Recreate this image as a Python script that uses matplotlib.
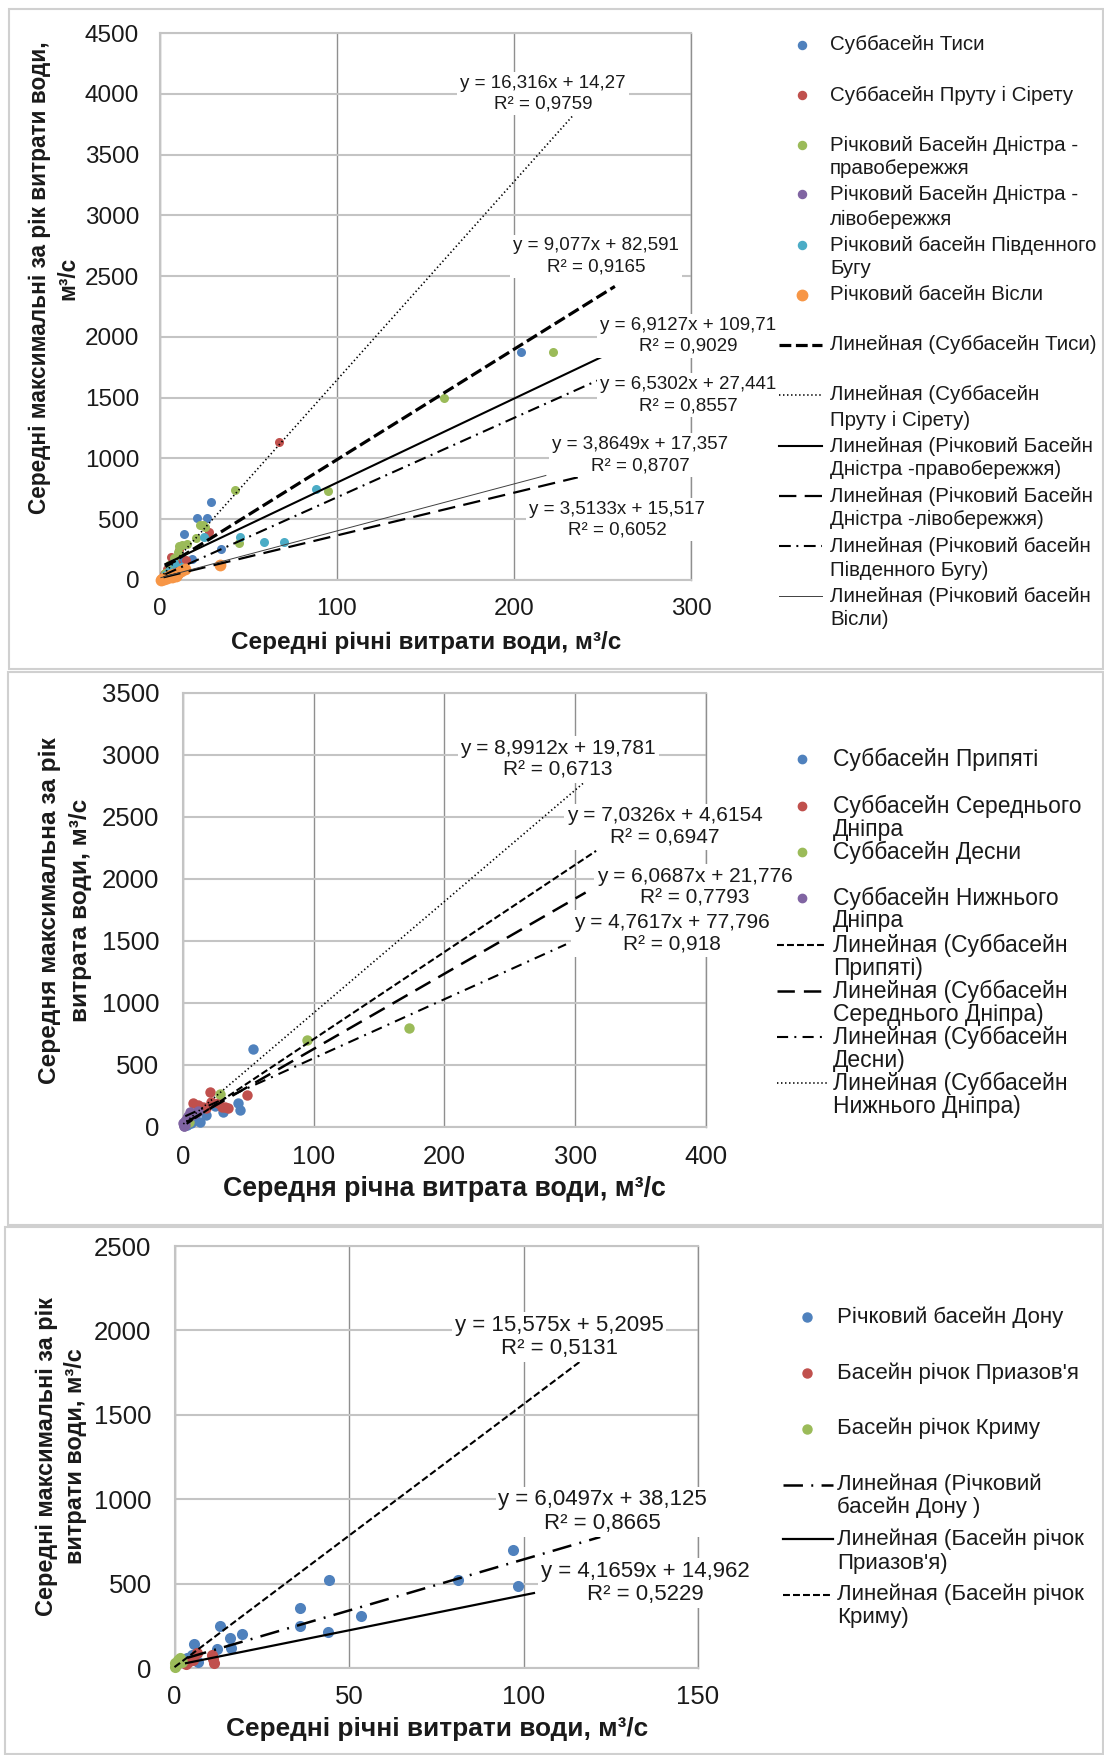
import matplotlib
matplotlib.use('Agg')
import matplotlib.pyplot as plt
from matplotlib.lines import Line2D
from matplotlib.patches import Rectangle
import numpy as np

plt.rcParams['font.family'] = ['Liberation Sans', 'DejaVu Sans']
plt.rcParams['lines.scale_dashes'] = False

# ---------------- DATA ----------------
# Panel 1
p1_names = ['Суббасейн Тиси', 'Суббасейн Пруту і Сірету',
            'Річковий Басейн Дністра -\nправобережжя',
            'Річковий Басейн Дністра -\nлівобережжя',
            'Річковий басейн Південного\nБугу', 'Річковий басейн Вісли']
p1_trend_names = ['Линейная (Суббасейн Тиси)', 'Линейная (Суббасейн\nПруту і Сірету)',
                  'Линейная (Річковий Басейн\nДністра -правобережжя)',
                  'Линейная (Річковий Басейн\nДністра -лівобережжя)',
                  'Линейная (Річковий басейн\nПівденного Бугу)',
                  'Линейная (Річковий басейн\nВісли)']
tysa_x = [204, 28.9, 21, 26.3, 13.5, 34.6, 18.3, 12, 8, 5, 3, 10]
tysa_y = [1877, 645, 508, 510, 378, 259, 175, 200, 120, 80, 40, 160]
prut_x = [67.3, 27.9, 6.1, 14.7, 11, 9, 4, 2]
prut_y = [1134, 397, 192, 165, 250, 140, 90, 50]
dnr_x = [221.8, 160.4, 95, 42.4, 22.6, 24.3, 25.4, 20.3, 44.8, 10.9, 12.2, 10, 8, 5, 3, 15]
dnr_y = [1877, 1501, 731, 742, 450, 455, 440, 343, 308, 277, 290, 233, 180, 120, 60, 300]
dnl_x = [3, 5, 8, 10, 12, 6, 2]
dnl_y = [20, 35, 50, 40, 70, 25, 10]
bug_x = [88.1, 45.3, 58.9, 69.9, 24.9, 8, 5, 3, 12]
bug_y = [751, 350, 316, 312, 350, 140, 70, 40, 110]
visla_x = [33.9, 14, 12, 10, 8, 6, 5, 3, 2, 1, 0.5, 4, 7, 9]
visla_y = [125, 90, 70, 60, 50, 40, 30, 20, 10, 5, 3, 15, 25, 35]
p1_slopes = [9.077, 16.316, 6.9127, 3.5133, 6.5302, 3.8649]
p1_intercepts = [82.591, 14.27, 109.71, 15.517, 27.441, 17.357]
p1_r2 = [0.9165, 0.9759, 0.9029, 0.6052, 0.8557, 0.8707]
p1_trend_end = [257, 235, 251, 236, 247, 218]
p1_xticks = [0, 100, 200, 300]
p1_yticks = [0, 500, 1000, 1500, 2000, 2500, 3000, 3500, 4000, 4500]

# Panel 2
p2_names = ['Суббасейн Припяті', 'Суббасейн Середнього\nДніпра', 'Суббасейн Десни',
            'Суббасейн Нижнього\nДніпра']
p2_trend_names = ['Линейная (Суббасейн\nПрипяті)', 'Линейная (Суббасейн\nСереднього Дніпра)',
                  'Линейная (Суббасейн\nДесни)', 'Линейная (Суббасейн\nНижнього Дніпра)']
pryp_x = [53.4, 42.5, 43.8, 31, 24.6, 13.2, 9.4, 6, 3, 18]
pryp_y = [627, 191, 140, 120, 166, 43, 56, 30, 15, 100]
sered_x = [21, 49.3, 32.4, 35, 27.2, 29.8, 8.1, 11.9, 15.8, 22, 5, 3, 18]
sered_y = [280, 255, 164, 151, 191, 164, 191, 178, 164, 200, 80, 40, 150]
desna_x = [94.8, 173, 28.6, 5, 2]
desna_y = [698, 802, 264, 40, 15]
nyzh_x = [5.6, 3, 0.5, 1, 2, 4, 7, 10, 12, 1.5, 0.8]
nyzh_y = [120, 70, 30, 10, 50, 90, 100, 110, 130, 20, 5]
p2_slopes = [7.0326, 6.0687, 4.7617, 8.9912]
p2_intercepts = [4.6154, 21.776, 77.796, 19.781]
p2_r2 = [0.6947, 0.7793, 0.918, 0.6713]
p2_trend_end = [316, 308, 293, 307]
p2_xticks = [0, 100, 200, 300, 400]
p2_yticks = [0, 500, 1000, 1500, 2000, 2500, 3000, 3500]

# Panel 3
p3_names = ['Річковий басейн Дону', "Басейн річок Приазов'я", 'Басейн річок Криму']
p3_trend_names = ['Линейная (Річковий\nбасейн Дону )', "Линейная (Басейн річок\nПриазов'я)",
                  'Линейная (Басейн річок\nКриму)']
don_x = [97.1, 81.2, 98.4, 44.2, 53.3, 36, 36, 43.9, 13.1, 19.2, 16, 16.1, 12.2, 5.5, 3.7, 6.7, 4.9]
don_y = [698, 521, 486, 519, 311, 356, 247, 213, 250, 203, 177, 119, 114, 143, 60, 35, 77]
azov_x = [6.4, 11.1, 10.8, 4, 5.4, 11.2, 3.3]
azov_y = [86, 55, 75, 37, 47, 31, 21]
krym_x = [0.1, 1.1, 2.1, 0, 1.6, 0.5, 1]
krym_y = [28, 47, 37, 8, 57, 15, 30]
p3_slopes = [6.0497, 4.1659, 15.575]
p3_intercepts = [38.125, 14.962, 5.2095]
p3_r2 = [0.8665, 0.5229, 0.5131]
p3_trend_end = [122, 103, 117]
p3_xticks = [0, 50, 100, 150]
p3_yticks = [0, 500, 1000, 1500, 2000, 2500]

# ---------------- STYLE ----------------
BLUE, RED, GREEN, PURPLE, CYAN, ORANGE = '#4F81BD', '#C0504D', '#9BBB59', '#8064A2', '#4BACC6', '#F79646'
TXT = '#1a1a1a'

W, H = 1104, 1755
fig = plt.figure(figsize=(W / 100, H / 100), dpi=100)


def fx(x):
    return x / W


def fy(y):
    return 1 - y / H


# panel frames
for (x0, y0, x1, y1) in [(9, 8.5, 1103, 669), (8, 672, 1103, 1225), (5, 1227, 1103, 1754)]:
    fig.add_artist(Rectangle((fx(x0), fy(y1)), fx(x1) - fx(x0), fy(y0) - fy(y1),
                             transform=fig.transFigure, facecolor='white',
                             edgecolor='#d0d0d0', lw=1.5, zorder=0))


def eq_text(s, b, r2):
    return 'y = %sx + %s\nR² = %s' % (str(s).replace('.', ','), str(b).replace('.', ','),
                                        str(r2).replace('.', ','))


def setup_axes(rect, xlim, ylim, xticks, yticks, tick_fs, ypad, xpad):
    ax = fig.add_axes(rect)
    ax.set_xlim(*xlim)
    ax.set_ylim(*ylim)
    ax.set_xticks(xticks)
    ax.set_yticks(yticks)
    ax.tick_params(length=0, labelsize=tick_fs, colors=TXT)
    ax.tick_params(axis='y', pad=ypad)
    ax.tick_params(axis='x', pad=xpad)
    ax.set_axisbelow(True)
    ax.grid(axis='y', color='#c4c4c4', lw=1.5)
    ax.grid(axis='x', color='#8f8f8f', lw=1.0)
    for sp in ['left', 'top', 'bottom']:
        ax.spines[sp].set_color('#c4c4c4')
        ax.spines[sp].set_linewidth(1.5)
    ax.spines['right'].set_color('#8f8f8f')
    ax.spines['right'].set_linewidth(1.0)
    ax.patch.set_alpha(0)
    return ax


def draw_legend(rows, mx, hx0, hx1, tx, fs):
    for kind, style, label, ys in rows:
        y0 = ys[0]
        if kind == 'm':
            fig.add_artist(Line2D([fx(mx)], [fy(y0)], transform=fig.transFigure, marker='o',
                                  ms=style[1], color=style[0], ls='none'))
        else:
            fig.add_artist(Line2D([fx(hx0), fx(hx1)], [fy(y0), fy(y0)], transform=fig.transFigure,
                                  **style))
        for line, yy in zip(label.split('\n'), ys):
            fig.text(fx(tx), fy(yy), line, fontsize=fs, color=TXT, va='center', ha='left')


def trend_labels(ax, pos, slopes, intercepts, r2, fs, ls):
    for i in range(len(pos)):
        ax.text(*pos[i], eq_text(slopes[i], intercepts[i], r2[i]),
                ha='center', va='center', multialignment='center', fontsize=fs, color=TXT,
                linespacing=ls, zorder=5,
                bbox=dict(facecolor='white', edgecolor='none', pad=2))


# ================= PANEL 1 =================
ax1 = setup_axes([fx(160), fy(580), fx(691) - fx(160), fy(33) - fy(580)], (0, 300), (0, 4500),
                 p1_xticks, p1_yticks, 17.5, 15, 13)
p1_series = [(tysa_x, tysa_y, BLUE, 6.5), (prut_x, prut_y, RED, 6.5), (dnr_x, dnr_y, GREEN, 6.5),
             (dnl_x, dnl_y, PURPLE, 6.5), (bug_x, bug_y, CYAN, 6.5), (visla_x, visla_y, ORANGE, 8.5)]
p1_styles = [dict(color='black', lw=2.3, ls=(0, (8.5, 3.3))),
             dict(color='black', lw=1.2, ls=(0, (1.0, 1.9))),
             dict(color='black', lw=1.5, ls='-'),
             dict(color='black', lw=1.6, ls=(0, (12.5, 6))),
             dict(color='black', lw=1.5, ls=(0, (8.5, 4, 1.4, 4))),
             dict(color='#404040', lw=0.7, ls='-')]
for (xs, ys, c, ms) in p1_series:
    ax1.plot(xs, ys, 'o', color=c, ms=ms, mec='none', clip_on=False, zorder=3)
for i, (xs, ys, c, ms) in enumerate(p1_series):
    xx = np.array([min(xs), p1_trend_end[i]])
    ax1.plot(xx, p1_slopes[i] * xx + p1_intercepts[i], zorder=4, clip_on=False, **p1_styles[i])
p1_label_pos = [(246.3, 2662), (216.4, 4002), (298.3, 2009), (258.2, 497), (298.3, 1520), (271.2, 1027)]
trend_labels(ax1, p1_label_pos, p1_slopes, p1_intercepts, p1_r2, 13.5, 1.3)
ax1.set_xlabel('Середні річні витрати води, м³/с', fontsize=17.5, fontweight='bold', color=TXT)
ax1.xaxis.set_label_coords(0.502, -0.115)
ax1.xaxis.label.set_va('center')
ax1.set_ylabel('Середні максимальні за рік витрати води,\nм³/с', fontsize=16.3, fontweight='bold',
               color=TXT, linespacing=1.3, multialignment='center')
ax1.yaxis.set_label_coords(-0.1996, 0.552)
ax1.yaxis.label.set_va('center')

p1_rows = [('m', (BLUE, 5.8), p1_names[0], [45]),
           ('m', (RED, 5.8), p1_names[1], [95]),
           ('m', (GREEN, 5.8), p1_names[2], [145, 168]),
           ('m', (PURPLE, 5.8), p1_names[3], [194, 219]),
           ('m', (CYAN, 5.8), p1_names[4], [245, 268]),
           ('m', (ORANGE, 7.5), p1_names[5], [295]),
           ('l', p1_styles[0], p1_trend_names[0], [345]),
           ('l', p1_styles[1], p1_trend_names[1], [395, 420]),
           ('l', p1_styles[2], p1_trend_names[2], [446, 469]),
           ('l', p1_styles[3], p1_trend_names[3], [496, 519]),
           ('l', p1_styles[4], p1_trend_names[4], [546, 570]),
           ('l', p1_styles[5], p1_trend_names[5], [596, 619])]
draw_legend(p1_rows, 801.7, 779, 822, 830, 14.8)

# ================= PANEL 2 =================
ax2 = setup_axes([fx(182.7), fy(1127), fx(706) - fx(182.7), fy(693) - fy(1127)], (0, 400), (0, 3500),
                 p2_xticks, p2_yticks, 18.5, 17, 13)
p2_series = [(pryp_x, pryp_y, BLUE), (sered_x, sered_y, RED), (desna_x, desna_y, GREEN),
             (nyzh_x, nyzh_y, PURPLE)]
p2_styles = [dict(color='black', lw=1.5, ls=(0, (5, 2.2))),
             dict(color='black', lw=1.8, ls=(0, (12.5, 6.5))),
             dict(color='black', lw=1.5, ls=(0, (8, 4.5, 1.4, 4.5))),
             dict(color='black', lw=1.2, ls=(0, (1.0, 1.9)))]
for (xs, ys, c) in p2_series:
    ax2.plot(xs, ys, 'o', color=c, ms=7.5, mec='none', clip_on=False, zorder=3)
for i, (xs, ys, c) in enumerate(p2_series):
    xx = np.array([min(xs), p2_trend_end[i]])
    ax2.plot(xx, p2_slopes[i] * xx + p2_intercepts[i], zorder=4, clip_on=False, **p2_styles[i])
p2_label_pos = [(368.5, 2420), (391.3, 1935), (373.8, 1560), (287, 2965)]
trend_labels(ax2, p2_label_pos, p2_slopes, p2_intercepts, p2_r2, 15, 1.2)
ax2.set_xlabel('Середня річна витрата води, м³/с', fontsize=19.3, fontweight='bold', color=TXT)
ax2.xaxis.set_label_coords(0.4995, -0.144)
ax2.xaxis.label.set_va('center')
ax2.set_ylabel('Середня максимальна за рік\nвитрата води, м³/с', fontsize=17.6, fontweight='bold',
               color=TXT, linespacing=1.4, multialignment='center')
ax2.yaxis.set_label_coords(-0.225, 0.499)
ax2.yaxis.label.set_va('center')

p2_rows = [('m', (BLUE, 6), p2_names[0], [759]),
           ('m', (RED, 6), p2_names[1], [806, 830]),
           ('m', (GREEN, 6), p2_names[2], [852]),
           ('m', (PURPLE, 6), p2_names[3], [898, 921]),
           ('l', p2_styles[0], p2_trend_names[0], [945, 968]),
           ('l', p2_styles[1], p2_trend_names[1], [991, 1014]),
           ('l', p2_styles[2], p2_trend_names[2], [1037, 1060]),
           ('l', p2_styles[3], p2_trend_names[3], [1083, 1106])]
draw_legend(p2_rows, 801.7, 776.7, 826.7, 832.7, 16.5)

# ================= PANEL 3 =================
ax3 = setup_axes([fx(174.5), fy(1668), fx(698) - fx(174.5), fy(1246) - fy(1668)], (0, 150), (0, 2500),
                 p3_xticks, p3_yticks, 18.5, 16.5, 12)
p3_series = [(don_x, don_y, BLUE), (azov_x, azov_y, RED), (krym_x, krym_y, GREEN)]
p3_styles = [dict(color='black', lw=1.8, ls=(0, (14, 6, 1.4, 6))),
             dict(color='black', lw=1.6, ls='-'),
             dict(color='black', lw=1.5, ls=(0, (5, 2.2)))]
for (xs, ys, c) in p3_series:
    ax3.plot(xs, ys, 'o', color=c, ms=8, mec='none', clip_on=False, zorder=3)
for i, (xs, ys, c) in enumerate(p3_series):
    xx = np.array([min(xs), p3_trend_end[i]])
    ax3.plot(xx, p3_slopes[i] * xx + p3_intercepts[i], zorder=4, clip_on=False, **p3_styles[i])
p3_label_pos = [(122.7, 926), (134.9, 504), (110.3, 1961)]
trend_labels(ax3, p3_label_pos, p3_slopes, p3_intercepts, p3_r2, 16, 1.15)
ax3.set_xlabel('Середні річні витрати води, м³/с', fontsize=18.9, fontweight='bold', color=TXT)
ax3.xaxis.set_label_coords(0.5014, -0.1438)
ax3.xaxis.label.set_va('center')
ax3.set_ylabel('Середні максимальні за рік\nвитрати води, м³/с', fontsize=16.9, fontweight='bold',
               color=TXT, linespacing=1.3, multialignment='center')
ax3.yaxis.set_label_coords(-0.2168, 0.502)
ax3.yaxis.label.set_va('center')

p3_rows = [('m', (BLUE, 6.5), p3_names[0], [1317]),
           ('m', (RED, 6.5), p3_names[1], [1373]),
           ('m', (GREEN, 6.5), p3_names[2], [1428.5]),
           ('l', p3_styles[0], p3_trend_names[0], [1484.6, 1507.3]),
           ('l', p3_styles[1], p3_trend_names[1], [1539.4, 1563]),
           ('l', p3_styles[2], p3_trend_names[2], [1594.5, 1618])]
draw_legend(p3_rows, 807, 783, 832.7, 837.3, 16)

fig.savefig('out.png', dpi=100, facecolor='white')
